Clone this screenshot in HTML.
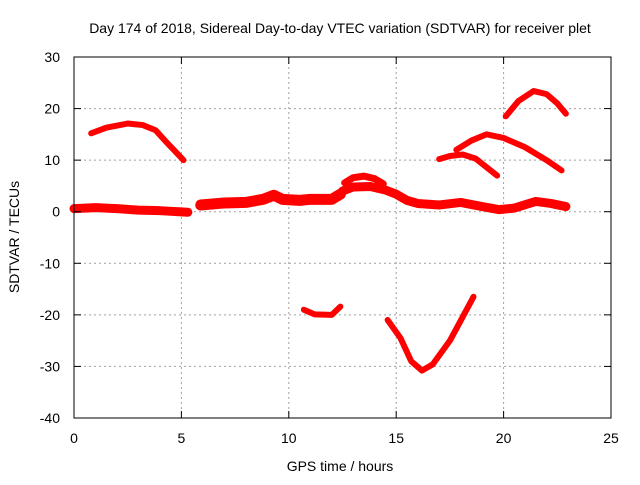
<!DOCTYPE html>
<html><head><meta charset="utf-8"><style>
body{margin:0;background:#fff}
svg text{font-family:"Liberation Sans",sans-serif;font-size:14px;fill:#000}
</style></head><body>
<svg id="c" width="640" height="480" xmlns="http://www.w3.org/2000/svg">
<rect width="640" height="480" fill="#fff"/>
<text x="340" y="33" text-anchor="middle">Day 174 of 2018, Sidereal Day-to-day VTEC variation (SDTVAR) for receiver plet</text>
<text x="340" y="471" text-anchor="middle">GPS time / hours</text>
<text transform="translate(19,237) rotate(-90)" text-anchor="middle">SDTVAR / TECUs</text>
<g id="grid"></g><g id="series"></g><g id="axes"></g>
</svg>
<script>
const xTicks=[0,5,10,15,20,25];
const yTicks=[-40,-30,-20,-10,0,10,20,30];
const arc1=[[0.8,15.2],[1.5,16.3],[2.5,17.1],[3.2,16.8],[3.8,15.8],[4.3,13.5],[5.1,10]];
const band1=[[0,0.6],[1,0.8],[2,0.6],[3,0.3],[4,0.2],[5.3,-0.1]];
const band2=[[5.9,1.3],[7,1.7],[8,1.8],[8.8,2.4],[9.3,3.2],[9.7,2.4],[10.5,2.2],[11,2.4],[12,2.4],[12.4,3.4]];
const bump=[[12.6,5.6],[13,6.6],[13.5,6.9],[14,6.4],[14.4,5.4]];
const band3=[[12.5,4],[13,4.8],[13.8,4.9],[14.5,4.2],[15,3.4],[15.5,2.2],[16,1.6],[17,1.3],[18,1.8],[19,1],[19.8,0.4],[20.5,0.7],[21.5,2],[22.2,1.6],[22.9,1]];
const dip1=[[10.7,-19],[11.2,-19.9],[12,-20],[12.4,-18.4]];
const dip2=[[14.6,-21],[15.2,-24.5],[15.7,-29],[16.2,-30.8],[16.7,-29.6],[17.5,-25],[18.6,-16.5]];
const arc2=[[17,10.2],[17.5,10.8],[18.1,11.1],[18.7,10.3],[19.7,7]];
const arc3=[[17.8,12],[18.5,13.8],[19.2,15],[20,14.3],[21,12.5],[22,10],[22.7,8]];
const arc4=[[20.1,18.5],[20.7,21.5],[21.4,23.4],[22,22.8],[22.5,21],[22.9,19]];
const X0=74,X1=611,Y0=418,Y1=57;
const sx=v=>X0+(v-0)/25*(X1-X0);
const sy=v=>Y0-(v+40)/70*(Y0-Y1);
const NS="http://www.w3.org/2000/svg";
const g=document.getElementById('grid'),s=document.getElementById('series'),a=document.getElementById('axes');
function mk(t,at,p){const e=document.createElementNS(NS,t);for(const k in at)e.setAttribute(k,at[k]);p.appendChild(e);return e;}
xTicks.forEach(v=>{
 if(v>0&&v<25){const l=mk('line',{x1:sx(v),x2:sx(v),y1:Y1,y2:Y0,stroke:'#a0a0a0','stroke-dasharray':'2,3'},g);
 
 }
 mk('line',{x1:sx(v),x2:sx(v),y1:Y0,y2:Y0-7,stroke:'#000'},a);
 mk('line',{x1:sx(v),x2:sx(v),y1:Y1,y2:Y1+7,stroke:'#000'},a);
 const t=mk('text',{x:sx(v),y:Y0+25,'text-anchor':'middle'},a);t.textContent=v;
 
 
});
yTicks.forEach(v=>{
 if(v>-40&&v<30){const l=mk('line',{x1:X0,x2:X1,y1:sy(v),y2:sy(v),stroke:'#a0a0a0','stroke-dasharray':'2,3'},g);
 
 }
 mk('line',{x1:X0,x2:X0+7,y1:sy(v),y2:sy(v),stroke:'#000'},a);
 mk('line',{x1:X1,x2:X1-7,y1:sy(v),y2:sy(v),stroke:'#000'},a);
 const t=mk('text',{x:X0-14,y:sy(v)+5,'text-anchor':'end'},a);t.textContent=v;
 
 
});
const fr=mk('rect',{x:X0,y:Y1,width:X1-X0,height:Y0-Y1,fill:'none',stroke:'#000'},a);


function draw(d,w,name){
 const p=mk('polyline',{points:d.map(q=>sx(q[0])+','+sy(q[1])).join(' '),fill:'none',stroke:'#ff0000','stroke-width':w,'stroke-linejoin':'round','stroke-linecap':'round'},s);
 
 
}
draw(arc1,6,'series-arc-1');
draw(band1,9,'series-band-1');
draw(band2,11,'series-band-2');
draw(bump,7,'series-bump');
draw(band3,9,'series-band-3');
draw(dip1,6,'series-dip-1');
draw(dip2,6,'series-dip-2');
draw(arc2,6,'series-arc-2');
draw(arc3,6,'series-arc-3');
draw(arc4,6,'series-arc-4');
</script>
</body></html>
